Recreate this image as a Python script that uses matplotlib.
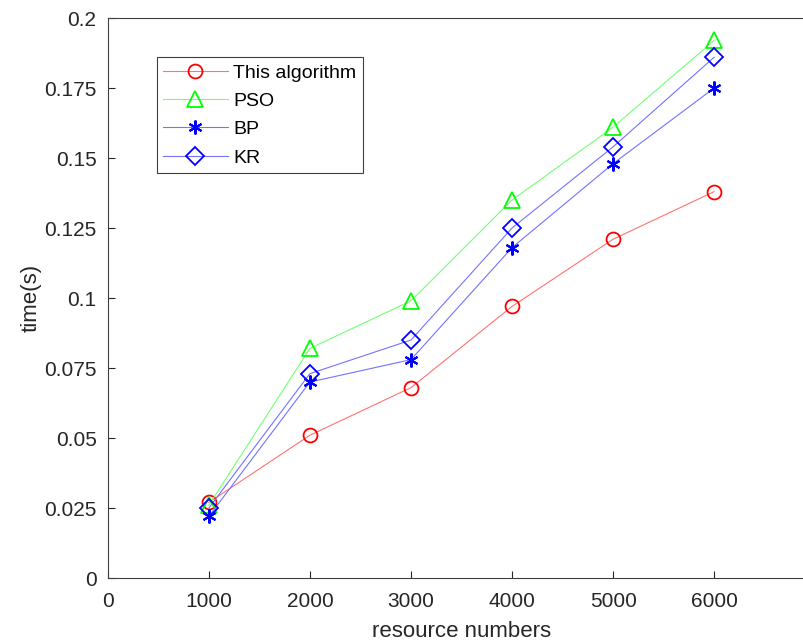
import matplotlib
matplotlib.use("Agg")
from matplotlib import pyplot as plt
import numpy as np

plt.rcParams['font.family'] = ['Liberation Sans', 'DejaVu Sans']

x = [1000, 2000, 3000, 4000, 5000, 6000]
this_alg = [0.027, 0.051, 0.068, 0.097, 0.121, 0.138]
pso = [0.026, 0.082, 0.099, 0.135, 0.161, 0.192]
bp = [0.022, 0.070, 0.078, 0.118, 0.148, 0.175]
kr = [0.025, 0.073, 0.085, 0.125, 0.154, 0.186]
labels = ["This algorithm", "PSO", "BP", "KR"]

fig = plt.figure(figsize=(8.04, 6.43), dpi=100)
ax = fig.add_axes([0.134, 0.101, 0.88, 0.871])

ax.plot(x, this_alg, color='#ff0000', lw=0.8, marker='o', ms=10, mfc='none', mew=1.3, label=labels[0])
ax.plot(x, pso, color='#00ff00', lw=0.8, marker='^', ms=11, mfc='none', mew=1.3, label=labels[1])
ax.plot(x, bp, color='#0000ff', lw=0.8, marker=(6, 2, 0), ms=10, mew=1.5, label=labels[2])
ax.plot(x, kr, color='#0000ff', lw=0.8, marker='D', ms=9, mfc='none', mew=1.3, label=labels[3])

# lighter lines, full-colour markers
for ln in ax.lines:
    c = matplotlib.colors.to_rgb(ln.get_color())
    light = tuple(0.45 + 0.55 * v for v in c)
    ln.set_color(light)
    ln.set_markeredgecolor(c)

ax.set_xlim(0, 7000)
ax.set_ylim(0, 0.2)
ax.set_xticks(np.arange(0, 7000, 1000))
ax.set_yticks(np.arange(0, 0.2001, 0.025))
ax.set_yticklabels(["0", "0.025", "0.05", "0.075", "0.1", "0.125", "0.15", "0.175", "0.2"])
ax.tick_params(direction='in', length=5, width=0.8, labelsize=15, colors='#262626')
ax.tick_params(axis='x', pad=10)
ax.tick_params(axis='y', pad=8)
for s in ax.spines.values():
    s.set_color('#404040')
    s.set_linewidth(0.8)
ax.set_xlabel("resource numbers", fontsize=16, color='#262626', labelpad=7)
ax.set_ylabel("time(s)", fontsize=16, color='#262626', labelpad=2)

leg = ax.legend(loc='upper left', bbox_to_anchor=(0.069, 0.93), fontsize=14,
                fancybox=False, edgecolor='#404040', framealpha=1, borderaxespad=0,
                handlelength=3.3, handletextpad=0.3, labelspacing=0.55, borderpad=0.35)
leg.get_frame().set_linewidth(0.8)

fig.savefig("out.png", dpi=100)
